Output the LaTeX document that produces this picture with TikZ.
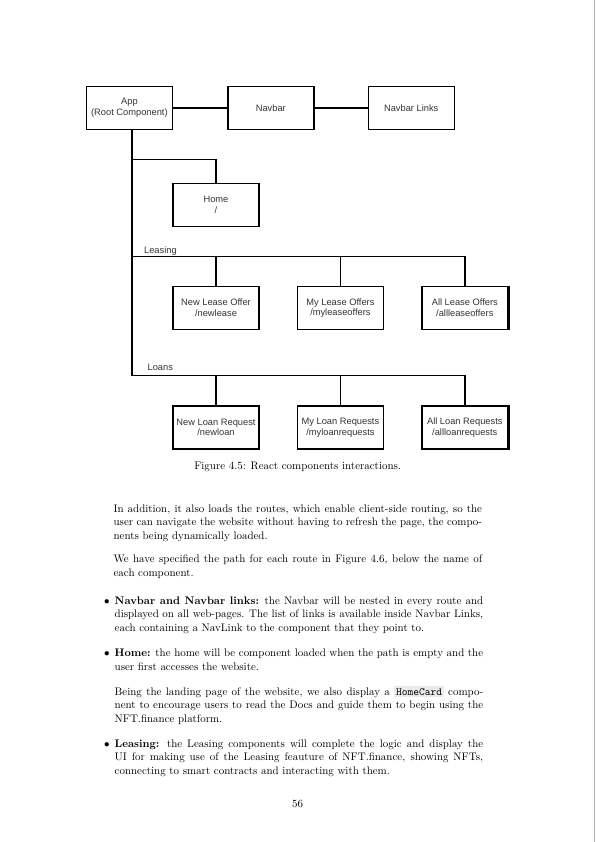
\documentclass[tikz,border=0pt]{standalone}
\usepackage{fontspec}
\usepackage{tikz}
\usetikzlibrary{positioning}
\newfontfamily\diagfont{Liberation Sans}
\definecolor{boxtext}{gray}{0.2}
\definecolor{codegray}{gray}{0.92}
\definecolor{pageedge}{gray}{0.7}
\newcommand{\codebox}[1]{{\setlength{\fboxsep}{1.8pt}\colorbox{codegray}{\texttt{#1}}}}

\begin{document}
\begin{tikzpicture}[x=1pt, y=-1pt,
		comp/.style={draw, line width=1.4pt, minimum width=86pt, minimum height=43pt, inner sep=1pt, align=center, text=boxtext, font=\diagfont\fontsize{9.3}{10.8}\selectfont},
		link/.style={line width=1.4pt},
		buslabel/.style={anchor=base west, inner sep=0pt, text=boxtext, font=\diagfont\fontsize{9.3}{10.8}\selectfont},
		para/.style={anchor=base west, inner sep=0pt, text width=368.5pt, align=justify, font=\fontsize{10.95}{13.6}\selectfont},
		dot/.style={anchor=base west, inner sep=0pt, font=\fontsize{10.95}{13.6}\selectfont}]
	\useasboundingbox (0,0) rectangle (595,842);
	\node[comp] (app) at (129.4,107.9) {App\\(Root Component)};
	\node[comp, right=54pt of app] (navbar) {Navbar};
	\node[comp, right=53pt of navbar] (navlinks) {Navbar Links};
	\node[comp] (home) at (216,205) {Home\\/};
	\node[comp] (newlease) at (216,308) {New Lease Offer\\/newlease};
	\node[comp, right=37pt of newlease] (mylease) {My Lease Offers\\/myleaseoffers};
	\node[comp, right=37pt of mylease] (alllease) {All Lease Offers\\/allleaseoffers};
	\node[comp, below=75pt of newlease] (newloan) {New Loan Request\\/newloan};
	\node[comp, right=37pt of newloan] (myloan) {My Loan Requests\\/myloanrequests};
	\node[comp, right=37pt of myloan] (allloan) {All Loan Requests\\/allloanrequests};
	\coordinate (trunk) at ([xshift=2.5pt]app.south);
	\coordinate (homebus) at (0,159.3);
	\coordinate (leasebus) at (0,256.7);
	\coordinate (loanbus) at (0,375.7);
	\draw[link] (app) -- (navbar);
	\draw[link] (navbar) -- (navlinks);
	\draw[link] (trunk) -- (trunk |- loanbus) -| (allloan.north);
	\draw[link] (trunk |- homebus) -| (home.north);
	\draw[link] (trunk |- leasebus) -| (alllease.north);
	\foreach \n in {newlease, mylease} \draw[link] (\n.north) -- (\n.north |- leasebus);
	\foreach \n in {newloan, myloan} \draw[link] (\n.north) -- (\n.north |- loanbus);
	\foreach \n in {alllease, allloan} \draw[line width=2pt] ([xshift=0.7pt]\n.north east) -- ([xshift=0.7pt]\n.south east);
	\node[buslabel] (leasing) at ([xshift=12pt, yshift=3.5pt]trunk |- leasebus) {Leasing};
	\node[buslabel] (loans) at ([xshift=15.5pt, yshift=5pt]trunk |- loanbus) {Loans};
	\node[anchor=base, font=\fontsize{10.95}{13.6}\selectfont] (caption) at (297.6,469.5) {Figure 4.5: React components interactions.};
	\node[para] (routes) at (113.4,512) {In addition, it also loads the routes, which enable client-side routing, so the user can navigate the website without having to refresh the page, the components being dynamically loaded.};
	\node[para] (paths) at (113.4,562.5) {We have specified the path for each route in Figure 4.6, below the name of each component.};
	\node[dot] (dotnav) at (104,604.3) {$\bullet$};
	\node[para] (navitem) at (114.5,604.3) {\textbf{Navbar and Navbar links:} the Navbar will be nested in every route and displayed on all web-pages. The list of links is available inside Navbar Links, each containing a NavLink to the component that they point to.};
	\node[dot] (dothome) at (104,656.5) {$\bullet$};
	\node[para] (homeitem) at (114.5,656.5) {\textbf{Home:} the home will be component loaded when the path is empty and the user first accesses the website.};
	\node[para] (homecard) at (114.5,695.1) {Being the landing page of the website, we also display a \codebox{HomeCard} component to encourage users to read the Docs and guide them to begin using the NFT.finance platform.};
	\node[dot] (dotlease) at (104,747.3) {$\bullet$};
	\node[para] (leaseitem) at (114.5,747.3) {\textbf{Leasing:} the Leasing components will complete the logic and display the UI for making use of the Leasing feauture of NFT.finance, showing NFTs, connecting to smart contracts and interacting with them.};
	\node[anchor=base, font=\fontsize{10.95}{13.6}\selectfont] (pagenum) at (297.6,807) {56};
	\draw[pageedge, line width=1.2pt] (594.4,0) -- (594.4,842);
\end{tikzpicture}
\end{document}
